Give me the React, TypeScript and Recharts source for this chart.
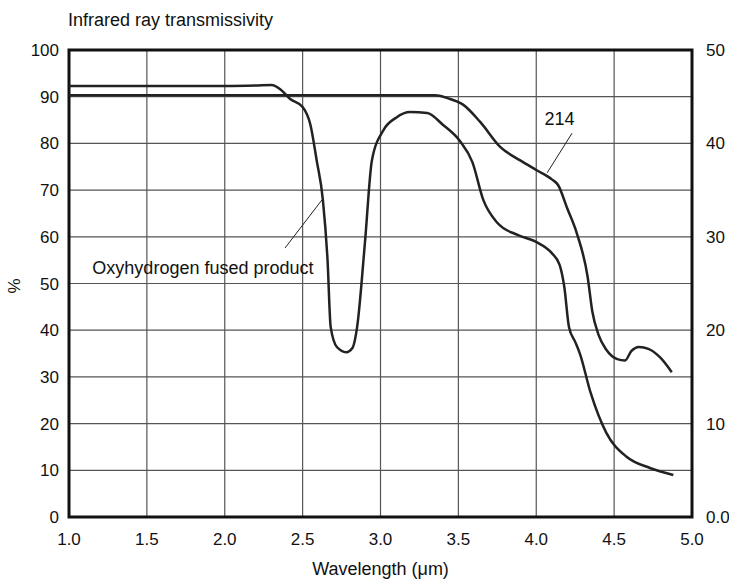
import { LineChart, Line, XAxis, YAxis, CartesianGrid, ReferenceArea, ReferenceLine, ReferenceDot } from 'recharts';

// wavelength (µm) / transmissivity (%)
const oxyX = [1.0, 1.5, 2.0, 2.2, 2.3, 2.36, 2.42, 2.5, 2.55, 2.59, 2.63, 2.66, 2.68, 2.72, 2.78, 2.82, 2.85, 2.9, 2.945, 3.02, 3.1, 3.19, 3.3, 3.4, 3.51, 3.59, 3.66, 3.75, 3.88, 4.0, 4.1, 4.15, 4.18, 4.21, 4.25, 4.28, 4.35, 4.45, 4.58, 4.73, 4.88];
const oxyY = [92.3, 92.3, 92.3, 92.4, 92.5, 91.5, 89.5, 87.8, 84, 76.4, 67.9, 55, 40.7, 36.4, 35.3, 36.2, 40.7, 58.7, 76.4, 82.9, 85.5, 86.7, 86.5, 84, 80.5, 76, 67.9, 63, 60.4, 58.9, 56.5, 54, 49.3, 40.7, 37.5, 35, 26.5, 18, 12.9, 10.5, 9];

const q214X = [1.0, 2.0, 3.0, 3.35, 3.43, 3.53, 3.64, 3.77, 3.9, 4.0, 4.1, 4.14, 4.2, 4.26, 4.33, 4.36, 4.4, 4.45, 4.52, 4.57, 4.61, 4.66, 4.72, 4.8, 4.87];
const q214Y = [90.3, 90.3, 90.3, 90.3, 89.7, 88.3, 84.6, 79.2, 76.3, 74.3, 72.3, 71.1, 66, 60.8, 51.4, 44, 39, 35.8, 33.8, 33.5, 35.5, 36.4, 36, 34, 31];

const xTicks = [1.0, 1.5, 2.0, 2.5, 3.0, 3.5, 4.0, 4.5, 5.0];
const leftTicks = [0, 10, 20, 30, 40, 50, 60, 70, 80, 90, 100];
const rightTicks = [0, 10, 20, 30, 40, 50];

const oxyData = oxyX.map((x, i) => ({ x, y: oxyY[i] }));
const q214Data = q214X.map((x, i) => ({ x, y: q214Y[i] }));

const font = 'Liberation Sans, Arial, sans-serif';
const tickStyle = { fill: '#111', fontSize: 17, fontFamily: font };
const noteStyle = { fill: '#111', fontSize: 18, fontFamily: font };

export default function App() {
  return (
    <div style={{ position: 'absolute', left: 0, top: 0, width: 729, height: 579, background: '#fff' }}>
      <LineChart width={729} height={579} margin={{ top: 50, right: 0, bottom: 0, left: 0 }}>
        <text x={68} y={26} fontSize={18} fontFamily={font} fill="#111">Infrared ray transmissivity</text>
        <text x={20} y={286} fontSize={17} fontFamily={font} fill="#111" textAnchor="middle" transform="rotate(-90 20 286)">%</text>
        <CartesianGrid yAxisId="left" stroke="#555" strokeWidth={1.2} />
        <XAxis
          type="number"
          dataKey="x"
          domain={[1, 5]}
          ticks={xTicks}
          allowDuplicatedCategory={false}
          tickFormatter={(v: number) => v.toFixed(1)}
          axisLine={false}
          tickLine={false}
          tickSize={0}
          tickMargin={16}
          height={62}
          tick={tickStyle}
          label={{ value: 'Wavelength (\u03bcm)', position: 'insideBottom', offset: 4, style: { ...noteStyle, textAnchor: 'middle' } }}
        />
        <YAxis yAxisId="left" domain={[0, 100]} ticks={leftTicks} width={69} axisLine={false} tickLine={false} tickSize={0} tickMargin={10} tick={tickStyle} />
        <YAxis yAxisId="right" orientation="right" domain={[0, 50]} ticks={rightTicks} width={37} axisLine={false} tickLine={false} tickSize={0} tickMargin={14} tick={tickStyle} tickFormatter={(v: number) => (v === 0 ? '0.0' : String(v))} />
        <ReferenceLine yAxisId="right" y={0} stroke="none" ifOverflow="extendDomain" />
        <ReferenceLine yAxisId="right" y={50} stroke="none" ifOverflow="extendDomain" />
        <ReferenceArea yAxisId="left" x1={1} x2={5} y1={0} y2={100} fill="none" stroke="#111" strokeWidth={3} />
        <Line yAxisId="left" data={oxyData} dataKey="y" type="monotone" stroke="#222" strokeWidth={2.5} dot={false} isAnimationActive={false} />
        <Line yAxisId="left" data={q214Data} dataKey="y" type="monotone" stroke="#222" strokeWidth={2.5} dot={false} isAnimationActive={false} />
        <ReferenceLine yAxisId="left" segment={[{ x: 2.387, y: 57.6 }, { x: 2.624, y: 67.9 }]} stroke="#222" strokeWidth={1} />
        <ReferenceLine yAxisId="left" segment={[{ x: 4.23, y: 82.2 }, { x: 4.07, y: 73.7 }]} stroke="#222" strokeWidth={1} />
        <ReferenceDot yAxisId="left" x={1.86} y={53.5} r={0} fill="none" stroke="none" label={{ value: 'Oxyhydrogen fused product', position: 'center', style: noteStyle }} />
        <ReferenceDot yAxisId="left" x={4.15} y={85.3} r={0} fill="none" stroke="none" label={{ value: '214', position: 'center', style: noteStyle }} />
      </LineChart>
    </div>
  );
}
